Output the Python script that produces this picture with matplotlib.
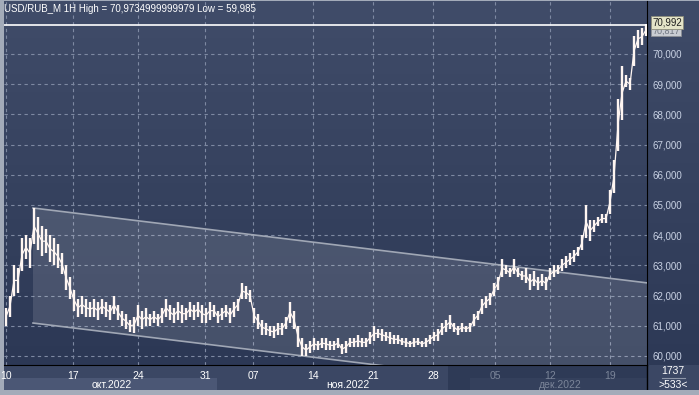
import numpy as np
import matplotlib
matplotlib.use("Agg")
import matplotlib.pyplot as plt
import matplotlib.transforms as mtrans
from matplotlib.patches import Rectangle, Polygon

plt.rcParams['font.family'] = ['Liberation Sans', 'DejaVu Sans']

# hourly bars, sampled (high / low), USD/RUB
hi = [61.6, 62.0, 63.0, 62.9, 63.9, 64.0, 63.9, 64.9, 64.6, 64.3,
      64.2, 64.0, 63.9, 63.7, 63.4, 63.0, 62.6, 62.2, 61.9, 62.0,
      61.9, 61.8, 61.9, 61.8, 61.9, 61.8, 61.7, 62.0, 61.7, 61.5,
      61.4, 61.2, 61.3, 61.7, 61.5, 61.6, 61.4, 61.5, 61.4, 61.6,
      61.9, 61.7, 61.6, 61.8, 61.7, 61.6, 61.8, 61.7, 61.8, 61.7,
      61.6, 61.8, 61.7, 61.5, 61.6, 61.7, 61.6, 61.8, 61.9, 62.4,
      62.3, 62.2, 61.6, 61.4, 61.2, 61.1, 61.0, 61.0, 61.1, 61.1,
      61.3, 61.8, 61.5, 61.0, 60.6, 60.4, 60.5, 60.6, 60.5, 60.6,
      60.6, 60.5, 60.5, 60.6, 60.4, 60.5, 60.6, 60.6, 60.7, 60.6,
      60.6, 60.8, 60.98, 60.9, 60.9, 60.8, 60.8, 60.7, 60.7, 60.6,
      60.6, 60.5, 60.6, 60.6, 60.5, 60.6, 60.7, 60.8, 60.9, 61.1,
      61.2, 61.35, 61.1, 61.0, 61.1, 61.0, 61.1, 61.4, 61.5, 61.9,
      62.0, 62.1, 62.4, 62.6, 63.2, 63.0, 62.9, 63.2, 62.9, 62.8,
      62.9, 62.7, 62.8, 62.6, 62.7, 62.6, 62.9, 63.0, 63.0, 63.2,
      63.3, 63.4, 63.5, 63.6, 64.0, 65.0, 64.5, 64.5, 64.6, 64.7,
      64.7, 65.5, 66.5, 68.5, 69.6, 69.3, 69.2, 70.6, 70.8, 70.85,
      70.99]
lo = [61.0, 61.3, 62.0, 62.1, 62.8, 63.2, 62.9, 63.7, 63.5, 63.3,
      63.4, 63.1, 63.0, 62.9, 62.7, 62.2, 61.9, 61.5, 61.3, 61.4,
      61.3, 61.3, 61.3, 61.2, 61.4, 61.3, 61.2, 61.4, 61.2, 61.0,
      60.9, 60.8, 60.75, 61.0, 60.9, 61.0, 61.0, 61.1, 61.0, 61.1,
      61.3, 61.2, 61.1, 61.2, 61.1, 61.2, 61.3, 61.2, 61.3, 61.1,
      61.1, 61.2, 61.3, 61.1, 61.2, 61.3, 61.1, 61.3, 61.5, 61.9,
      61.9, 61.8, 61.1, 60.9, 60.7, 60.7, 60.65, 60.6, 60.7, 60.7,
      60.9, 61.1, 60.9, 60.3, 60.0, 59.99, 60.1, 60.2, 60.2, 60.25,
      60.2, 60.2, 60.2, 60.25, 60.05, 60.1, 60.3, 60.3, 60.3, 60.3,
      60.3, 60.4, 60.5, 60.6, 60.5, 60.5, 60.4, 60.4, 60.4, 60.35,
      60.3, 60.3, 60.3, 60.35, 60.3, 60.3, 60.4, 60.5, 60.5, 60.7,
      60.8, 60.9, 60.8, 60.7, 60.8, 60.8, 60.8, 61.0, 61.2, 61.4,
      61.6, 61.7, 62.0, 62.2, 62.6, 62.7, 62.6, 62.7, 62.6, 62.5,
      62.4, 62.2, 62.3, 62.2, 62.3, 62.2, 62.5, 62.6, 62.7, 62.8,
      62.9, 63.0, 63.1, 63.3, 63.5, 63.9, 63.8, 64.1, 64.3, 64.4,
      64.4, 64.7, 65.4, 66.8, 67.8, 68.9, 68.8, 69.6, 70.2, 70.3,
      70.6]

day_ticks = [0, 16.75, 33, 49.75, 61.75, 76.75, 91.75, 106.75, 122.25, 136, 151]
day_labels = ['10', '17', '24', '31', '07', '14', '21', '28', '05', '12', '19']
months = ['окт.2022', 'ноя.2022', 'дек.2022']
month_x = [26.5, 85.5, 138.5]
y_ticks = list(range(60, 71))

high_val = 70.9734999999979
low_val = 59.985
last_price = 70.992
prev_price = 70.817

# trend channel (x index, price)
chan_x = [6.75, 160.25]
chan_top = [64.9, 62.42]
chan_bot = [61.09, 58.61]

W, H = 699, 395
fig = plt.figure(figsize=(W / 100, H / 100), dpi=100, facecolor='#a3abb9')


def gradient(ax, top, bot):
    c1 = np.array(matplotlib.colors.to_rgb(top))
    c2 = np.array(matplotlib.colors.to_rgb(bot))
    t = np.linspace(0, 1, 256)[:, None]
    img = (c1 * (1 - t) + c2 * t)[:, None, :]
    ax.imshow(img, extent=[0, 1, 0, 1], transform=ax.transAxes,
              aspect='auto', zorder=0, interpolation='bilinear')


# main plot
ax = fig.add_axes([4 / W, 30 / H, 643 / W, 364 / H])
gradient(ax, '#404c69', '#2c3855')
ax.set_xlim(-0.5, 160.25)
ax.set_ylim(59.70, 71.755)

for s in ax.spines.values():
    s.set_visible(False)
ax.spines['right'].set_visible(True)
ax.spines['right'].set_color('black')
ax.spines['bottom'].set_visible(True)
ax.spines['bottom'].set_color('black')

ax.yaxis.tick_right()
ax.set_yticks(y_ticks)
ax.set_yticklabels([f"{v:.3f}".replace('.', ',') for v in y_ticks],
                   fontsize=7, color='#c9d2e4')
ax.set_xticks(day_ticks)
ax.set_xticklabels(day_labels, fontsize=7.5, color='white')
for lab in ax.get_xticklabels()[8:]:
    lab.set_color('#7b8599')
ax.tick_params(axis='both', length=0)
ax.tick_params(axis='y', pad=4)
ax.tick_params(axis='x', pad=4)
ax.grid(True, color='#7e89a2', linestyle=(0, (3, 3)), linewidth=0.8, zorder=1)

# channel
px = [chan_x[0], chan_x[1], chan_x[1], chan_x[0]]
py = [chan_top[0], chan_top[1], chan_bot[1], chan_bot[0]]
ax.add_patch(Polygon(list(zip(px, py)), closed=True, facecolor='white',
                     alpha=0.12, edgecolor='none', zorder=2))
ax.plot(chan_x, chan_top, color='#a0a7b5', lw=1.2, zorder=3)
ax.plot(chan_x, chan_bot, color='#a0a7b5', lw=1.2, zorder=3)

# bars
xs = np.arange(len(hi))
mid = (np.array(hi) + np.array(lo)) / 2
ax.vlines(xs, lo, hi, color='#fff6f2', linewidth=1.7, zorder=4)
ax.plot(xs, mid, color='#fff6f2', linewidth=0.9, zorder=4)

ax.axhline(high_val, color='white', lw=1.2, zorder=5)

ax.text(0.0, 0.992, f"USD/RUB_M 1H High = {str(high_val).replace('.', ',')} "
        f"Low = {str(low_val).replace('.', ',')}",
        transform=ax.transAxes, ha='left', va='top', fontsize=7, color='white')

tr = mtrans.blended_transform_factory(ax.transAxes, ax.transData)
ax.text(1.008, prev_price - 0.05, f"{prev_price:.3f}".replace('.', ','),
        transform=tr, fontsize=6.5, color='#6e7480', ha='left', va='center',
        zorder=6, clip_on=False,
        bbox=dict(boxstyle='square,pad=0.12', fc='#c9ccd2', ec='#8c8f96', lw=0.6))
ax.text(1.008, last_price + 0.04, f"{last_price:.3f}".replace('.', ','),
        transform=tr, fontsize=7, color='#202020', ha='left', va='center',
        zorder=7, clip_on=False,
        bbox=dict(boxstyle='square,pad=0.15', fc='#e4e4c8', ec='#8c8c7a', lw=0.6))

# right price panel
axr = fig.add_axes([648 / W, 30 / H, 51 / W, 364 / H], zorder=-1)
gradient(axr, '#3f4b68', '#2d3956')
axr.set_axis_off()

# bottom date strip
axb = fig.add_axes([4 / W, 5 / H, 695 / W, 25 / H], zorder=-1)
axb.set_xlim(4, 699)
axb.set_ylim(0, 25)
axb.set_axis_off()
axb.add_patch(Rectangle((4, 0), 695, 25, fc='#3b4764', ec='none'))
axb.add_patch(Rectangle((4, 0), 213, 12, fc='#4b5775', ec='none'))
axb.add_patch(Rectangle((448, 0), 199, 25, fc='#2e3a56', ec='none'))
axb.add_patch(Rectangle((470, 0), 177, 12, fc='#34405c', ec='none'))
axb.axvline(647, color='black', lw=1)
axb.plot([662, 685], [12.5, 12.5], color='#8d96a8', lw=0.8)
axb.text(673, 19, '1737', fontsize=7.5, color='white', ha='center', va='center')
axb.text(673, 5.5, '>533<', fontsize=7.5, color='white', ha='center', va='center')

trb = mtrans.blended_transform_factory(ax.transData, axb.transData)
month_colors = ['white', 'white', '#7b8599']
for m, x, c in zip(months, month_x, month_colors):
    axb.text(x, 5.5, m, transform=trb, fontsize=7.5, color=c,
             ha='center', va='center')

fig.savefig('out.png', dpi=100, facecolor=fig.get_facecolor())
